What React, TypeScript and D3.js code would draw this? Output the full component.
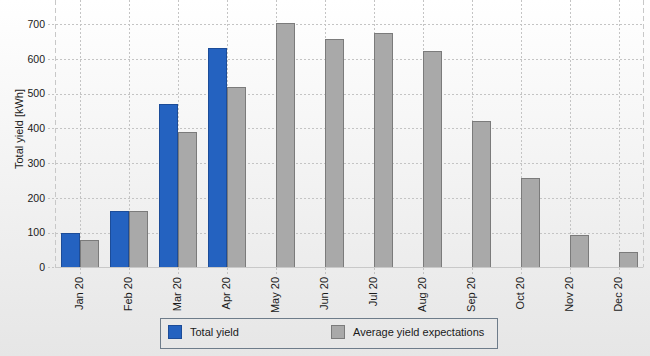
import React from "react";
import * as d3 from "d3";

const months = ["Jan 20", "Feb 20", "Mar 20", "Apr 20", "May 20", "Jun 20", "Jul 20", "Aug 20", "Sep 20", "Oct 20", "Nov 20", "Dec 20"];
const totalYield: (number | null)[] = [100, 161, 470, 631, null, null, null, null, null, null, null, null];
const avgExpect: number[] = [80, 161, 389, 519, 703, 657, 674, 622, 422, 256, 92, 43];
const yTicks = [0, 100, 200, 300, 400, 500, 600, 700];
const seriesNames = ["Total yield", "Average yield expectations"];

const W = 650, H = 356;
const left = 55, right = 643, top = 0, bottom = 267.3;
const FONT = "'Liberation Sans', Arial, sans-serif";

export default function App() {
  const x = d3.scaleBand<string>().domain(months).range([left, right]).paddingInner(0.265).paddingOuter(0.1325);
  const x1 = d3.scaleBand<string>().domain(seriesNames).range([0, x.bandwidth()]).padding(0);
  const y = d3.scaleLinear().domain([0, 770]).range([bottom, top]);
  const fills = ["#2462c0", "#a9a9a9"];
  const strokes = ["#1c4c98", "#7b7b7b"];
  const series = [totalYield, avgExpect];

  return (
    <svg width={W} height={H} style={{ position: "fixed", left: 0, top: 0 }} fontFamily={FONT}>
      <defs>
        <linearGradient id="bg" x1="0" y1="0" x2="0" y2="1">
          <stop offset="0" stopColor="#ffffff" />
          <stop offset="1" stopColor="#e6e6e6" />
        </linearGradient>
      </defs>
      <rect x={0} y={0} width={W} height={H} fill="url(#bg)" />
      {/* horizontal gridlines */}
      {yTicks.map((t) => (
        <line key={"h" + t} x1={48} x2={right} y1={Math.round(y(t)) + 0.5} y2={Math.round(y(t)) + 0.5}
          stroke="#c4c4c4" strokeDasharray="2,2" />
      ))}
      {/* vertical gridlines */}
      {months.map((m) => {
        const cx = Math.round(x(m)! + x.bandwidth() / 2) + 0.5;
        return <line key={"v" + m} x1={cx} x2={cx} y1={0} y2={274} stroke="#c4c4c4" strokeDasharray="2,2" />;
      })}
      {/* axis frame */}
      <line x1={left + 0.5} x2={left + 0.5} y1={0} y2={bottom} stroke="#c8c8c8" strokeDasharray="5,3" />
      <line x1={right + 0.5} x2={right + 0.5} y1={0} y2={bottom} stroke="#c8c8c8" strokeDasharray="5,3" />
      {/* bars */}
      {series.map((vals, si) =>
        vals.map((v, i) =>
          v == null ? null : (
            <rect key={si + "-" + i}
              x={Math.round(x(months[i])! + x1(seriesNames[si])!) + 0.5}
              y={Math.round(y(v)) + 0.5}
              width={Math.round(x1.bandwidth())}
              height={Math.round(y(0)) - Math.round(y(v))}
              fill={fills[si]} stroke={strokes[si]} strokeWidth={1} />
          )
        )
      )}
      <line x1={left} x2={right} y1={Math.round(bottom) + 0.5} y2={Math.round(bottom) + 0.5} stroke="#c8c8c8" />
      {/* y tick labels */}
      {yTicks.map((t) => (
        <text key={"yt" + t} x={45} y={y(t)} dy="0.35em" textAnchor="end" fontSize={10.5} fill="#1a1a1a">{t}</text>
      ))}
      <text transform={`translate(19,129) rotate(-90)`} textAnchor="middle" dy="0.35em" fontSize={11} fill="#1a1a1a">Total yield [kWh]</text>
      {/* x tick labels */}
      {months.map((m) => (
        <text key={"xt" + m} transform={`translate(${x(m)! + x.bandwidth() / 2},277) rotate(-90)`}
          textAnchor="end" dy="0.35em" fontSize={11} fill="#1a1a1a">{m}</text>
      ))}
      {/* legend */}
      <rect x={160.5} y={318.5} width={337} height={30} fill="none" stroke="#6e7c8a" />
      <rect x={168.5} y={325.5} width={13} height={13} fill={fills[0]} stroke={strokes[0]} />
      <text x={190} y={336} fontSize={11} fill="#1a1a1a">{seriesNames[0]}</text>
      <rect x={331.5} y={325.5} width={13} height={13} fill={fills[1]} stroke={strokes[1]} />
      <text x={353} y={336} fontSize={11} fill="#1a1a1a">{seriesNames[1]}</text>
    </svg>
  );
}
